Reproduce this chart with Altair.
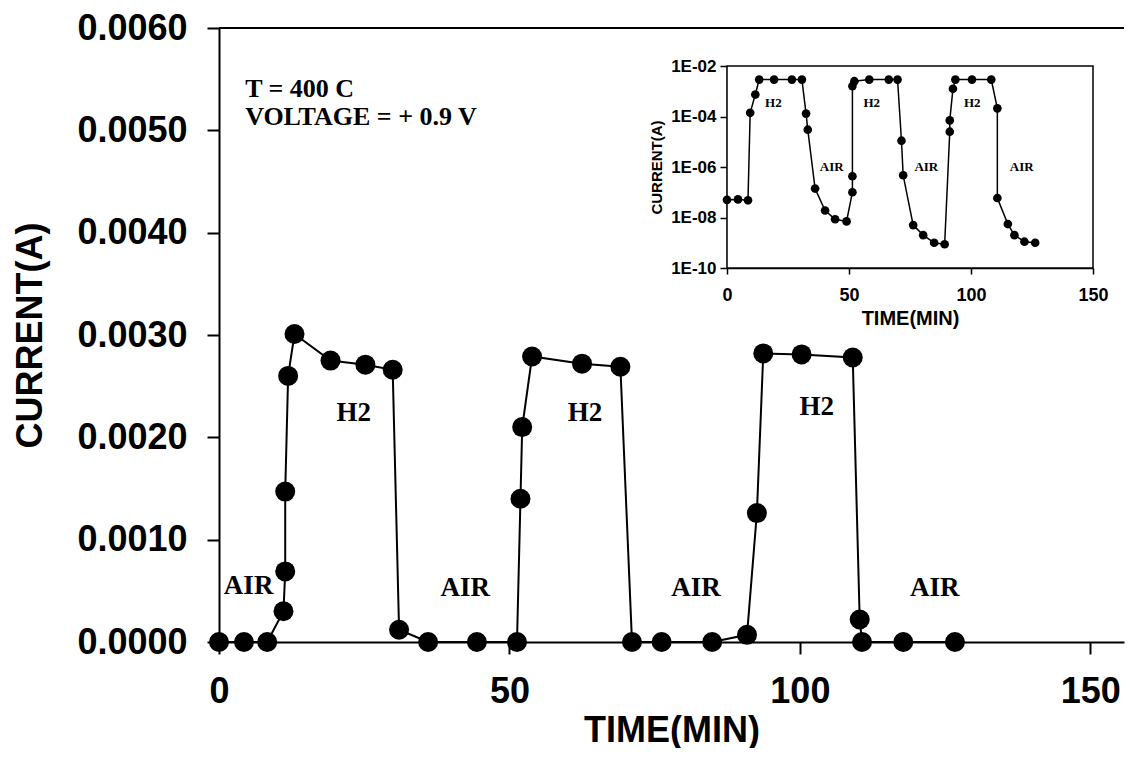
import altair as alt
import pandas as pd

# ---------------- data ----------------
main_time = [0, 4.3, 8.3, 11.1, 11.4, 11.4, 11.9, 13.0, 19.2, 25.2, 29.9, 31.0, 36.0, 44.4,
             51.3, 51.9, 52.2, 53.9, 62.5, 69.1, 71.1, 76.2, 84.9,
             90.9, 92.6, 93.7, 100.3, 109.1, 110.3, 110.7, 117.8, 126.7]
main_current = [0.0, 0.0, 0.0, 0.00030, 0.00069, 0.00147, 0.00260, 0.00301, 0.00275, 0.00271,
                0.00266, 0.00012, 0.0, 0.0,
                0.0, 0.00140, 0.00210, 0.00279, 0.00272, 0.00269, 0.0, 0.0, 0.0,
                0.00007, 0.00126, 0.00282, 0.00281, 0.00278, 0.00022, 0.0, 0.0, 0.0]

inset_time = [0, 4.5, 8.6, 9.5, 11.6, 13.2, 19.3, 26.6, 30.7, 32.4, 33.1, 36.1, 40.2, 44.3,
              49.0, 51.4, 51.4, 51.4, 52.2, 58.3, 66.3, 69.9, 71.5, 72.2, 76.3, 80.4, 84.9,
              89.2, 91.3, 91.3, 92.6, 93.6, 100.4, 108.3, 110.8, 110.8, 115.1, 117.8, 121.9, 126.3]
inset_current = [5e-8, 5.2e-8, 4.8e-8, 1.4e-4, 7.4e-4, 2.9e-3, 2.9e-3, 2.9e-3, 2.9e-3, 1.3e-4,
                 3e-5, 1.4e-7, 1.9e-8, 8.5e-9, 7e-9, 1e-7, 4.3e-7, 1.6e-3, 2.5e-3, 2.9e-3,
                 2.9e-3, 2.9e-3, 1.1e-5, 4.7e-7, 5e-9, 2e-9, 1e-9, 8.7e-10, 2.5e-5, 7e-5,
                 1.25e-3, 2.9e-3, 2.9e-3, 2.9e-3, 2.1e-4, 5.9e-8, 5.5e-9, 2e-9, 1.1e-9, 1e-9]

main_labels = ["H2", "H2", "H2", "AIR", "AIR", "AIR", "AIR"]
main_label_time = [23.2, 63.0, 102.9, 5.1, 42.4, 82.1, 123.2]
main_label_current = [0.00224, 0.00224, 0.00230, 0.00055, 0.00053, 0.00053, 0.00053]

note_lines = ["T = 400 C", "VOLTAGE = + 0.9 V"]
note_time = [4.5]
note_current = [0.00533]

inset_labels = ["H2", "H2", "H2", "AIR", "AIR", "AIR"]
inset_label_time = [19.0, 59.3, 100.5, 42.9, 81.7, 120.8]
inset_label_current = [3.5e-4, 3.5e-4, 3.5e-4, 1e-6, 1e-6, 1e-6]

main_x_ticks = [0, 50, 100, 150]
main_y_ticks = [0.0, 0.001, 0.002, 0.003, 0.004, 0.005, 0.006]
inset_x_ticks = [0, 50, 100, 150]
inset_y_ticks = [1e-10, 1e-8, 1e-6, 1e-4, 1e-2]

# ---------------- tables ----------------
main_df = pd.DataFrame({"t": main_time, "I": main_current, "i": list(range(len(main_time)))})
inset_df = pd.DataFrame({"t": inset_time, "I": inset_current, "i": list(range(len(inset_time)))})
main_lab_df = pd.DataFrame({"t": main_label_time, "I": main_label_current, "label": main_labels})
note_df = pd.DataFrame({"t": note_time, "I": note_current, "label": ["\n".join(note_lines)]})
inset_lab_df = pd.DataFrame({"t": inset_label_time, "I": inset_label_current, "label": inset_labels})
frame_df = pd.DataFrame({"t": [0], "t2": [150], "I": [1e-10], "I2": [1e-2]})

W, H = 905, 614
X_MAX = 155.8
# inset box inside the plot area (pixels from plot's top-left)
IX0, IX1, IY0, IY1 = 508, 874, 38, 240

SANS = "Liberation Sans"
SERIF = "Liberation Serif"

# ---------------- main plot ----------------
xm = alt.X("t:Q",
           scale=alt.Scale(domain=[0, X_MAX], nice=False, zero=False),
           axis=alt.Axis(values=main_x_ticks, title="TIME(MIN)", grid=False,
                         domainColor="black", domainWidth=2, tickColor="black",
                         tickWidth=2, tickSize=12, labelFont=SANS, labelFontWeight="bold",
                         labelFontSize=36, labelColor="black", labelPadding=20,
                         titleFont=SANS, titleFontWeight="bold", titleFontSize=36,
                         titleColor="black", titlePadding=4, labelFlush=False))
ym = alt.Y("I:Q",
           scale=alt.Scale(domain=[0, 0.006], nice=False),
           axis=alt.Axis(values=main_y_ticks, format=".4f", title="CURRENT(A)", grid=False,
                         domainColor="black", domainWidth=2, tickColor="black",
                         tickWidth=2, tickSize=12, labelFont=SANS, labelFontWeight="bold",
                         labelFontSize=36, labelColor="black", labelPadding=20,
                         titleFont=SANS, titleFontWeight="bold", titleFontSize=36,
                         titleColor="black", titlePadding=27, labelFlush=False))

main_line = alt.Chart(main_df).mark_line(color="black", strokeWidth=2).encode(
    x=xm, y=ym, order="i:Q")
main_pts = alt.Chart(main_df).mark_circle(color="black", opacity=1, size=400).encode(x=xm, y=ym)
main_txt = alt.Chart(main_lab_df).mark_text(font=SERIF, fontWeight="bold", fontSize=27,
                                            color="black", baseline="middle", align="center").encode(
    x=xm, y=ym, text="label:N")
note_txt = alt.Chart(note_df).mark_text(font=SERIF, fontWeight="bold", fontSize=26,
                                        color="black", baseline="alphabetic", align="left",
                                        lineBreak="\n", lineHeight=28).encode(
    x=xm, y=ym, text="label:N")
top_rule = alt.Chart(pd.DataFrame({"a": [0]})).mark_rule(color="black", strokeWidth=2).encode(
    y=alt.value(0))

main_layer = alt.layer(top_rule, main_line, main_pts, main_txt, note_txt)

# ---------------- inset ----------------
xi = alt.X("t:Q",
           scale=alt.Scale(domain=[0, 150], range=[IX0, IX1], nice=False, zero=False),
           axis=alt.Axis(orient="bottom", offset=IY1 - H, values=inset_x_ticks,
                         title="TIME(MIN)", grid=False, domainColor="black", domainWidth=1.5,
                         tickColor="black", tickWidth=1.5, tickSize=6, labelFont=SANS,
                         labelFontWeight="bold", labelFontSize=18, labelColor="black",
                         labelPadding=12, titleFont=SANS, titleFontWeight="bold",
                         titleFontSize=20, titleColor="black", titlePadding=4,
                         labelFlush=False))
yi = alt.Y("I:Q",
           scale=alt.Scale(type="log", domain=[1e-10, 1e-2], range=[IY1, IY0], nice=False),
           axis=alt.Axis(orient="left", offset=-IX0, values=inset_y_ticks,
                         labelExpr="'1E-' + (round(-log(datum.value)/LN10) < 10 ? '0' : '') + round(-log(datum.value)/LN10)",
                         title="CURRENT(A)", grid=False, domainColor="black", domainWidth=1.5,
                         tickColor="black", tickWidth=1.5, tickSize=7, labelFont=SANS,
                         labelFontWeight="bold", labelFontSize=17, labelColor="black",
                         labelPadding=4, titleFont=SANS, titleFontWeight="bold",
                         titleFontSize=15, titleColor="black", titlePadding=6,
                         labelFlush=False))

inset_frame = alt.Chart(frame_df).mark_rect(fill="white", stroke="black", strokeWidth=1.5).encode(
    x=xi, x2="t2:Q", y=yi, y2="I2:Q")
inset_line = alt.Chart(inset_df).mark_line(color="black", strokeWidth=1.5).encode(
    x=xi, y=yi, order="i:Q")
inset_pts = alt.Chart(inset_df).mark_point(filled=True, shape="circle", color="black",
                                           opacity=1, size=75).encode(x=xi, y=yi)
inset_txt = alt.Chart(inset_lab_df).mark_text(font=SERIF, fontWeight="bold", fontSize=13,
                                              color="black", baseline="middle",
                                              align="center").encode(x=xi, y=yi, text="label:N")

inset_layer = alt.layer(inset_frame, inset_line, inset_pts, inset_txt)

chart = alt.layer(main_layer, inset_layer).resolve_scale(
    x="independent", y="independent"
).properties(
    width=W, height=H,
    padding={"left": 4, "top": 2, "right": 0, "bottom": 0},
    background="white",
).configure_view(stroke=None)

chart.save("out.html", embed_options={"renderer": "svg", "actions": False})
